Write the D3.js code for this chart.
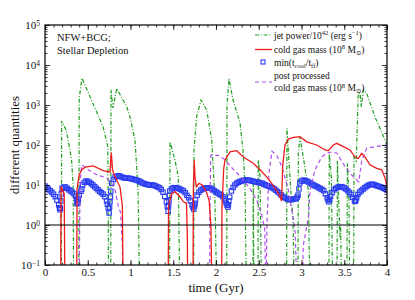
<!DOCTYPE html>
<html>
<head>
<meta charset="utf-8">
<script src="https://cdn.jsdelivr.net/npm/d3@7"></script>
<style>
    body { margin: 0; background: #fff; }
    svg text { font-family: "Liberation Serif", "DejaVu Serif", serif; fill: #111; }
</style>
</head>
<body>
<div id="chart"></div>
<script>
// [time (Gyr), value] -- 0.01 means the curve is below the plotted range
const jetPower = [
    [0, 0.01], [0.19, 0.01], [0.195, 400], [0.25, 230], [0.31, 45], [0.33, 9], [0.335, 0.01],
    [0.395, 0.01], [0.40, 1500], [0.433, 4700], [0.68, 280], [0.735, 90], [0.745, 0.01],
    [0.768, 0.01], [0.772, 2400], [0.795, 840], [0.839, 2600], [0.912, 1330], [0.956, 910], [0.994, 500],
    [1.053, 133], [1.088, 7.5], [1.11, 0.01],
    [1.457, 0.01], [1.462, 120], [1.52, 42], [1.559, 16], [1.579, 0.01],
    [1.738, 0.01], [1.743, 80], [1.774, 510], [1.825, 1330], [1.891, 750], [1.95, 133], [1.988, 4.2], [2.012, 0.01],
    [2.125, 0.01], [2.129, 1000], [2.152, 4500], [2.199, 1330], [2.281, 355], [2.316, 75], [2.339, 11], [2.357, 0.01],
    [2.432, 0.01], [2.436, 11], [2.445, 0.01], [2.49, 0.01], [2.495, 42], [2.515, 16], [2.534, 0.01],
    [2.825, 0.01], [2.83, 260], [2.874, 7.5], [2.9, 1.5], [2.92, 0.01],
    [2.958, 0.01], [2.963, 60], [2.982, 158], [3.021, 50], [3.08, 7.5], [3.1, 0.01],
    [3.32, 0.01], [3.325, 60], [3.35, 15], [3.365, 0.01],
    [3.415, 0.01], [3.42, 40], [3.44, 2], [3.45, 0.5], [3.458, 1], [3.47, 0.01],
    [3.531, 0.01], [3.536, 35], [3.555, 5], [3.565, 0.01],
    [3.61, 0.01], [3.614, 50], [3.64, 40], [3.664, 1950], [3.684, 1950], [3.70, 900], [3.723, 2400],
    [3.762, 2000], [3.86, 500], [3.977, 133], [4.0, 100]
];

const coldGas = [
    [0, 0.01], [0.183, 0.01], [0.187, 9], [0.2, 8], [0.225, 6], [0.234, 0.01],
    [0.37, 0.01], [0.375, 8], [0.4, 18], [0.43, 24], [0.47, 28], [0.565, 30], [0.68, 23], [0.76, 21],
    [0.775, 65], [0.79, 25], [0.8, 20], [0.84, 13], [0.877, 9], [0.905, 3], [0.915, 0.01],
    [1.44, 0.01], [1.445, 3], [1.48, 6], [1.52, 6.8], [1.58, 5], [1.62, 3.8], [1.655, 3.5], [1.665, 0.5], [1.67, 0.01],
    [1.73, 0.01], [1.735, 8], [1.745, 42], [1.755, 15], [1.77, 9], [1.8, 11], [1.84, 10], [1.89, 6.5],
    [1.92, 4], [1.94, 1], [1.955, 0.01],
    [2.065, 0.01], [2.07, 3], [2.09, 25], [2.105, 42], [2.164, 67], [2.242, 72], [2.32, 50], [2.436, 35],
    [2.515, 24], [2.593, 16], [2.651, 11], [2.73, 6.2], [2.768, 4], [2.78, 30], [2.807, 100], [2.846, 140],
    [2.904, 155], [2.982, 162], [3.061, 120], [3.178, 100], [3.275, 75], [3.313, 72], [3.372, 100],
    [3.412, 110], [3.489, 91], [3.567, 75], [3.626, 50], [3.664, 46], [3.704, 62], [3.743, 50],
    [3.801, 32], [3.88, 26], [3.938, 24], [3.977, 15], [4.0, 9]
];

const tcoolRatio = [
    [0.00, 9.4], [0.02, 8.6], [0.04, 7.9], [0.06, 7.2], [0.08, 6.6], [0.10, 5.9], [0.12, 5.1],
    [0.14, 4.2], [0.16, 3.2], [0.17, 2.7], [0.175, 2.4], [0.18, 2.6], [0.185, 4.0], [0.19, 6.0],
    [0.20, 8.3], [0.22, 8.9], [0.24, 8.9], [0.26, 8.2], [0.28, 7.6], [0.30, 7.1], [0.32, 6.6],
    [0.34, 6.0], [0.36, 5.2], [0.37, 4.3], [0.375, 3.5], [0.38, 3.4], [0.385, 3.8], [0.39, 4.4],
    [0.40, 5.6], [0.42, 7.0], [0.43, 7.9], [0.44, 10], [0.46, 11.6], [0.48, 12.6], [0.50, 12.3],
    [0.52, 11.7], [0.54, 10.8], [0.56, 10], [0.58, 9.1], [0.60, 8.3], [0.62, 7.6], [0.64, 6.9],
    [0.66, 6.4], [0.68, 5.9], [0.70, 5.1], [0.72, 4.0], [0.73, 3.3], [0.74, 2.6], [0.75, 2.0],
    [0.755, 2.8], [0.76, 3.8], [0.765, 5.0], [0.77, 7.0], [0.78, 11], [0.80, 13.8], [0.82, 15.8],
    [0.84, 16.6], [0.86, 17], [0.88, 16.5], [0.90, 15.8], [0.92, 15.2], [0.94, 14.8], [0.96, 14.8],
    [0.98, 14.8], [1.00, 14.5], [1.02, 14.1], [1.04, 13.8], [1.06, 13.5], [1.08, 13.0], [1.10, 12.6],
    [1.12, 11.9], [1.14, 11.2], [1.16, 10.8], [1.18, 10.5], [1.20, 10.2], [1.22, 10], [1.24, 10],
    [1.26, 10], [1.28, 9.7], [1.30, 9.3], [1.32, 8.9], [1.34, 8.5], [1.36, 7.7], [1.38, 6.6],
    [1.40, 5.2], [1.42, 3.8], [1.43, 2.9], [1.44, 2.2], [1.445, 3.0], [1.45, 4.0], [1.455, 5.5],
    [1.46, 7.1], [1.48, 8.0], [1.50, 8.5], [1.52, 8.6], [1.54, 8.5], [1.56, 8.2], [1.58, 7.9],
    [1.60, 7.5], [1.62, 7.1], [1.64, 6.4], [1.66, 5.5], [1.68, 4.8], [1.70, 4.0], [1.72, 3.2],
    [1.73, 2.8], [1.74, 2.5], [1.75, 3.0], [1.755, 3.5], [1.76, 4.2], [1.78, 5.6], [1.80, 6.6],
    [1.82, 7.4], [1.84, 7.9], [1.86, 8.3], [1.88, 8.4], [1.90, 8.5], [1.92, 8.4], [1.94, 8.3],
    [1.96, 7.8], [1.98, 7.2], [2.00, 6.7], [2.02, 6.3], [2.04, 5.9], [2.06, 5.6], [2.08, 5.1],
    [2.10, 4.5], [2.11, 4.0], [2.12, 3.5], [2.13, 3.1], [2.14, 2.8], [2.145, 3.2], [2.15, 4.0],
    [2.16, 5.0], [2.18, 7.1], [2.20, 8.7], [2.22, 10], [2.24, 11], [2.26, 11.7], [2.28, 12.2],
    [2.30, 12.6], [2.32, 13], [2.34, 13.2], [2.36, 13.3], [2.38, 13.2], [2.40, 12.9], [2.42, 12.6],
    [2.44, 12.3], [2.46, 12], [2.48, 11.8], [2.50, 11.5], [2.52, 11.2], [2.54, 11], [2.56, 10.5],
    [2.58, 10], [2.60, 9.6], [2.62, 9.3], [2.64, 8.9], [2.66, 8.5], [2.68, 8.0], [2.70, 7.4],
    [2.72, 6.8], [2.74, 6.3], [2.76, 5.7], [2.78, 5.2], [2.80, 4.9], [2.82, 4.6], [2.84, 4.4],
    [2.86, 4.3], [2.88, 4.3], [2.90, 4.4], [2.92, 4.5], [2.94, 4.6], [2.95, 5.0], [2.96, 5.6],
    [2.97, 8.0], [2.98, 11.2], [3.00, 12.5], [3.02, 13.2], [3.04, 13.0], [3.06, 12.6], [3.08, 11.9],
    [3.10, 11.2], [3.12, 10.6], [3.14, 10], [3.16, 9.5], [3.18, 9.1], [3.20, 8.6], [3.22, 8.1],
    [3.24, 7.7], [3.26, 7.2], [3.28, 6.0], [3.30, 4.8], [3.31, 4.2], [3.32, 3.8], [3.33, 4.4],
    [3.34, 5.2], [3.36, 6.5], [3.38, 7.6], [3.40, 8.2], [3.42, 8.7], [3.44, 9.0], [3.46, 9.1],
    [3.48, 8.9], [3.50, 8.5], [3.52, 7.9], [3.54, 7.2], [3.56, 6.5], [3.58, 5.8], [3.60, 4.9],
    [3.62, 4.0], [3.63, 3.9], [3.635, 4.2], [3.645, 4.8], [3.66, 5.8], [3.68, 6.6], [3.70, 7.2],
    [3.72, 7.9], [3.74, 8.5], [3.76, 9.2], [3.78, 9.8], [3.80, 10.2], [3.82, 10.5], [3.84, 10.3],
    [3.86, 10], [3.88, 9.6], [3.90, 9.3], [3.92, 9.0], [3.94, 8.7], [3.96, 8.3], [3.98, 7.9], [4.00, 7.5]
];

const postGas = [
    [0, 0.01], [0.40, 0.01], [0.405, 1], [0.41, 10], [0.429, 32], [0.506, 24], [0.605, 18], [0.722, 15],
    [0.78, 11], [0.82, 7.5], [0.857, 3], [0.885, 2], [0.905, 0.3], [0.915, 0.01],
    [1.925, 0.01], [1.93, 3], [1.935, 20], [1.94, 55], [2.03, 55], [2.09, 45], [2.14, 35], [2.2, 25],
    [2.3, 15], [2.4, 8], [2.48, 4], [2.53, 2], [2.57, 0.8], [2.585, 0.01],
    [2.595, 1], [2.62, 20], [2.655, 70], [2.71, 55], [2.77, 29], [2.846, 7.5], [2.885, 2.4],
    [2.924, 0.75], [2.955, 0.01],
    [3.01, 0.01], [3.02, 0.3], [3.08, 1.5], [3.1, 7.5], [3.158, 24], [3.236, 50], [3.295, 63],
    [3.353, 67], [3.412, 63], [3.509, 29], [3.606, 16], [3.67, 12], [3.704, 40], [3.762, 83],
    [3.86, 91], [4.0, 100]
];

const xTicks = [0, 0.5, 1, 1.5, 2, 2.5, 3, 3.5, 4];
const yExponents = [-1, 0, 1, 2, 3, 4, 5];

// legend text pieces: [text, 'sup' | 'sub' | undefined]
const legendJet = [['jet power/10'], ['42', 'sup'], [' (erg s'], ['\u22121', 'sup'], [')']];
const legendCold = [['cold gas mass (10'], ['8', 'sup'], [' M'], ['\u2299', 'sub'], [')']];
const legendRatio = [['min(t'], ['cool', 'sub'], ['/t'], ['ff', 'sub'], [')']];

const colors = { jet: '#1f9e1f', cold: '#ee1c1c', ratio: '#2a3cf2', post: '#b24cf0' };

class QuantityPlot {
    constructor(_config) {
        this.config = {
            parentElement: _config.parentElement,
            containerWidth: _config.containerWidth || 415,
            containerHeight: _config.containerHeight || 300,
            margin: _config.margin || { top: 25, right: 28, bottom: 35, left: 45 }
        };
        this.initVis();
    }

    initVis() {
        let vis = this;

        vis.width = vis.config.containerWidth - vis.config.margin.left - vis.config.margin.right;
        vis.height = vis.config.containerHeight - vis.config.margin.top - vis.config.margin.bottom;

        vis.xScale = d3.scaleLinear().domain([0, 4]).range([0, vis.width]);
        vis.yScale = d3.scaleLog().domain([0.1, 1e5]).range([vis.height, 0]);

        vis.svg = d3.select(vis.config.parentElement)
            .append('svg')
            .attr('width', vis.config.containerWidth)
            .attr('height', vis.config.containerHeight);

        vis.chart = vis.svg.append('g')
            .attr('transform', `translate(${vis.config.margin.left},${vis.config.margin.top})`);

        vis.chart.append('clipPath').attr('id', 'plot-clip')
            .append('rect')
            .attr('width', vis.width)
            .attr('height', vis.height);

        vis.marks = vis.chart.append('g').attr('clip-path', 'url(#plot-clip)');
    }

    renderVis() {
        let vis = this;
        const x = vis.xScale, y = vis.yScale;

        // minor tick positions on the log axis (2..9 x each decade)
        let yMinor = [];
        yExponents.slice(0, -1).forEach(e => {
            for (let m = 2; m <= 9; m++) yMinor.push(m * Math.pow(10, e));
        });
        const xMinor = d3.range(0, 41).map(i => i / 10);
        const yMajor = yExponents.map(e => Math.pow(10, e));

        // ticks point inward on all four sides
        const addAxis = (axis, transform) => {
            const g = vis.chart.append('g').attr('transform', transform).call(axis);
            g.select('.domain').remove();
            g.selectAll('line').attr('stroke', '#000').attr('stroke-width', 0.8);
            return g;
        };

        const noText = g => g.selectAll('.tick text').remove();

        addAxis(d3.axisBottom(x).tickValues(xMinor).tickSize(-2.5), `translate(0,${vis.height})`).call(noText);
        addAxis(d3.axisTop(x).tickValues(xMinor).tickSize(-2.5), 'translate(0,0)').call(noText);
        addAxis(d3.axisTop(x).tickValues(xTicks).tickSize(-5), 'translate(0,0)').call(noText);
        addAxis(d3.axisLeft(y).tickValues(yMinor).tickSize(-2.5), 'translate(0,0)').call(noText);
        addAxis(d3.axisRight(y).tickValues(yMinor).tickSize(-2.5), `translate(${vis.width},0)`).call(noText);
        addAxis(d3.axisRight(y).tickValues(yMajor).tickSize(-5), `translate(${vis.width},0)`).call(noText);

        const xAxisG = addAxis(d3.axisBottom(x).tickValues(xTicks).tickSize(-5).tickPadding(3)
            .tickFormat(d => String(d)), `translate(0,${vis.height})`);
        xAxisG.selectAll('text').attr('font-size', 11).attr('fill', '#111');

        const yAxisG = addAxis(d3.axisLeft(y).tickValues(yMajor).tickSize(-5).tickPadding(5)
            .tickFormat(() => '10'), 'translate(0,0)');
        yAxisG.selectAll('.tick text')
            .attr('font-size', 11)
            .attr('fill', '#111')
            .each(function(d) {
                d3.select(this).append('tspan').attr('dy', '-0.45em').attr('font-size', 7.5)
                    .text(Math.round(Math.log10(d)).toString().replace('-', '\u2212'));
            });

        // data marks
        const line = d3.line()
            .x(d => x(d[0]))
            .y(d => y(d[1]));

        vis.marks.append('path')
            .datum(jetPower)
            .attr('d', line)
            .attr('fill', 'none')
            .attr('stroke', colors.jet)
            .attr('stroke-width', 1.2)
            .attr('stroke-dasharray', '4,1.8,1,1.8');

        vis.marks.selectAll('.ratio')
            .data(tcoolRatio)
            .enter()
            .append('rect')
            .attr('class', 'ratio')
            .attr('x', d => x(d[0]) - 2.2)
            .attr('y', d => y(d[1]) - 2.2)
            .attr('width', 4.4)
            .attr('height', 4.4)
            .attr('fill', 'none')
            .attr('stroke', colors.ratio)
            .attr('stroke-width', 1.1);

        vis.marks.append('path')
            .datum(postGas)
            .attr('d', line)
            .attr('fill', 'none')
            .attr('stroke', colors.post)
            .attr('stroke-width', 1.2)
            .attr('stroke-dasharray', '4,3');

        vis.marks.append('path')
            .datum(coldGas)
            .attr('d', line)
            .attr('fill', 'none')
            .attr('stroke', colors.cold)
            .attr('stroke-width', 1.3);

        // line at 10^0
        vis.chart.append('line')
            .attr('x1', 0).attr('x2', vis.width)
            .attr('y1', y(1)).attr('y2', y(1))
            .attr('stroke', '#000')
            .attr('stroke-width', 1.2);

        // frame
        vis.chart.append('rect')
            .attr('width', vis.width)
            .attr('height', vis.height)
            .attr('fill', 'none')
            .attr('stroke', '#000')
            .attr('stroke-width', 1.2);

        // axis titles
        vis.svg.append('text')
            .attr('x', vis.config.margin.left + vis.width / 2)
            .attr('y', 292)
            .attr('text-anchor', 'middle')
            .attr('font-size', 13)
            .text('time (Gyr)');

        vis.svg.append('text')
            .attr('transform', `translate(19,${vis.config.margin.top + vis.height / 2}) rotate(-90)`)
            .attr('text-anchor', 'middle')
            .attr('font-size', 13)
            .text('different quantities');

        // annotation
        vis.svg.append('text').attr('x', 57).attr('y', 41).attr('font-size', 10.5)
            .attr('fill', '#333').text('NFW+BCG;');
        vis.svg.append('text').attr('x', 57).attr('y', 54).attr('font-size', 10.5)
            .attr('fill', '#333').text('Stellar Depletion');

        vis.renderLegend();
    }

    renderLegend() {
        let vis = this;
        const lg = vis.svg.append('g');
        const textX = 274, lineX0 = 255, lineX1 = 272;

        // each tspan's dy moves from the previous piece's baseline to its own
        const richText = (parts, yPos) => {
            const t = lg.append('text').attr('x', textX).attr('y', yPos).attr('font-size', 9.5);
            let current = 0;
            parts.forEach(p => {
                const shift = p[1] === 'sup' ? -3.5 : p[1] === 'sub' ? 2 : 0;
                t.append('tspan')
                    .attr('dy', shift - current)
                    .attr('font-size', shift ? 6.5 : 9.5)
                    .text(p[0]);
                current = shift;
            });
        };

        lg.append('line').attr('x1', lineX0).attr('x2', lineX1).attr('y1', 35).attr('y2', 35)
            .attr('stroke', colors.jet).attr('stroke-width', 1.2).attr('stroke-dasharray', '4,1.8,1,1.8');
        richText(legendJet, 38.5);

        lg.append('line').attr('x1', lineX0).attr('x2', lineX1).attr('y1', 49.5).attr('y2', 49.5)
            .attr('stroke', colors.cold).attr('stroke-width', 1.3);
        richText(legendCold, 52.5);

        lg.append('rect').attr('x', 261).attr('y', 60).attr('width', 4).attr('height', 4)
            .attr('fill', 'none').attr('stroke', colors.ratio).attr('stroke-width', 1.1);
        richText(legendRatio, 65.5);

        lg.append('line').attr('x1', lineX0).attr('x2', lineX1).attr('y1', 82).attr('y2', 82)
            .attr('stroke', colors.post).attr('stroke-width', 1.2).attr('stroke-dasharray', '4,3');
        richText([['post processed']], 78.5);
        richText(legendCold, 91);
    }
}

const plot = new QuantityPlot({ parentElement: '#chart' });
plot.renderVis();
</script>
</body>
</html>
